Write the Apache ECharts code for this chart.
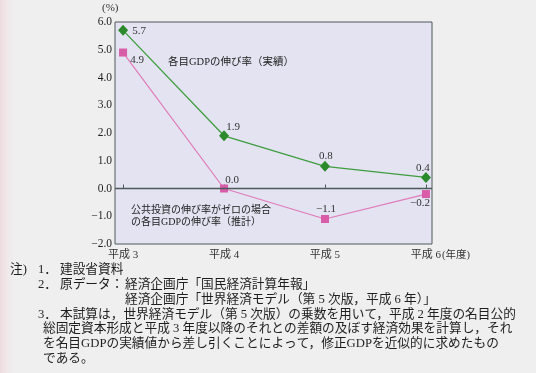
<!DOCTYPE html>
<html><head><meta charset="utf-8">
<script src="https://cdn.jsdelivr.net/npm/echarts@6/dist/echarts.min.js"></script>
<style>html,body{margin:0;padding:0;background:#f0efef}#c{width:536px;height:373px}</style>
</head><body><div id="c"></div>
<script>
// ---- data ----
const categories = ['平成 3', '平成 4', '平成 5', '平成 6'];
const actualGrowth = [5.7, 1.9, 0.8, 0.4];          // 各目GDPの伸び率（実績）
const zeroInvestGrowth = [4.9, 0.0, -1.1, -0.2];     // 公共投資の伸び率がゼロの場合の各目GDPの伸び率（推計）
const yTicks = [-2, -1, 0, 1, 2, 3, 4, 5, 6];
const xTickValues = [0, 1, 2, 3];
const notes = [
  ['注)', '1．', '建設省資料'],
  ['', '2．', '原データ：'],
  ['', '', ''],
  ['', '3．', '本試算は，世界経済モデル（第 5 次版）の乗数を用いて，平成 2 年度の名目公的'],
  ['', '', '総固定資本形成と平成 3 年度以降のそれとの差額の及ぼす経済効果を計算し，それ'],
  ['', '', 'を名目GDPの実績値から差し引くことによって，修正GDPを近似的に求めたもの'],
  ['', '', 'である。']
];
const sources = ['経済企画庁「国民経済計算年報」', '経済企画庁「世界経済モデル（第 5 次版，平成 6 年）」'];

// ---- label offsets (style) ----
const greenOffsets = [[16, 1], [9, -8.5], [1, -10.5], [-3, -9]];
const pinkOffsets = [[14, 8], [8, -8.5], [1, -9.5], [-6, 9]];

const FONT = '"Liberation Serif", "Noto Sans CJK JP", serif';
const fmt = v => (v < 0 ? '−' : '') + Math.abs(v).toFixed(1);

function buildData(values, offsets) {
  return values.map((v, i) => ({
    value: [i, v],
    label: { show: true, position: 'inside', offset: offsets[i], formatter: fmt(v) }
  }));
}

const graphics = [
  { type: 'rect', left: 0, top: 0, shape: { width: 18, height: 373 }, silent: true, z: -10,
    style: { fill: new echarts.graphic.LinearGradient(0, 0, 1, 0, [
      { offset: 0, color: 'rgba(236,210,216,0.7)' }, { offset: 1, color: 'rgba(240,239,239,0)' }]) } },
  { type: 'text', left: 102, top: 3, style: { text: '(%)', font: '11px ' + FONT, fill: '#333' } },
  { type: 'text', left: 168, top: 57, style: { text: '各目GDPの伸び率（実績）', font: '10.5px ' + FONT, fill: '#222' } },
  { type: 'text', left: 131, top: 205, style: { text: '公共投資の伸び率がゼロの場合', font: '10px ' + FONT, fill: '#222' } },
  { type: 'text', left: 131, top: 217, style: { text: 'の各目GDPの伸び率（推計）', font: '10px ' + FONT, fill: '#222' } },
  { type: 'text', left: 442, top: 250, style: { text: '(年度)', font: '10.5px ' + FONT, fill: '#333' } }
];
const noteX = [10, 38, 60];
const contX = 43;
notes.forEach((row, i) => {
  const y = 271.3 + 14.85 * i - 8;
  row.forEach((t, j) => {
    if (!t) return;
    let x = noteX[j];
    if (j === 2 && !row[1]) x = contX;
    graphics.push({ type: 'text', left: x, top: y, style: { text: t, font: '12.7px ' + FONT, fill: '#1e1e1e' } });
  });
});
sources.forEach((t, i) => {
  const y = 271.3 + 14.85 * (i + 1) - 8;
  graphics.push({ type: 'text', left: 125, top: y, style: { text: t, font: '12.7px ' + FONT, fill: '#1e1e1e' } });
});

const chart = echarts.init(document.getElementById('c'), null, { renderer: 'canvas' });
chart.setOption({
  animation: false,
  backgroundColor: '#f0efef',
  grid: { left: 115, right: 104, top: 22, bottom: 129, show: true,
          backgroundColor: '#e3e3f2', borderColor: '#4d5a58', borderWidth: 1 },
  xAxis: {
    type: 'value', min: -0.08, max: 3.06,
    splitLine: { show: false },
    axisLine: { show: false },
    axisTick: { show: true, inside: true, length: 4, customValues: xTickValues,
                lineStyle: { color: '#4d5a58' } },
    axisLabel: { customValues: xTickValues, margin: 6, color: '#333',
                 fontFamily: FONT, fontSize: 11,
                 formatter: v => categories[Math.round(v)] }
  },
  yAxis: {
    type: 'value', min: yTicks[0], max: yTicks[yTicks.length - 1], interval: 1,
    splitLine: { show: false },
    axisLine: { show: false },
    axisTick: { show: false },
    axisLabel: { margin: 3, color: '#1e1e1e', fontFamily: FONT, fontSize: 11.5,
                 formatter: fmt }
  },
  graphic: graphics,
  series: [
    {
      type: 'line', name: '実績', data: buildData(actualGrowth, greenOffsets),
      symbol: 'diamond', symbolSize: [10, 11],
      lineStyle: { color: '#3f9d3f', width: 1.3 },
      itemStyle: { color: '#2b8a2b' },
      label: { color: '#333', fontFamily: FONT, fontSize: 11 },
      z: 3
    },
    {
      type: 'line', name: '推計', data: buildData(zeroInvestGrowth, pinkOffsets),
      symbol: 'rect', symbolSize: 8,
      lineStyle: { color: '#e07ab8', width: 1.2 },
      itemStyle: { color: '#d95ca8' },
      label: { color: '#333', fontFamily: FONT, fontSize: 11 },
      markLine: { silent: true, symbol: 'none', label: { show: false },
                  lineStyle: { color: '#4d5a58', width: 1.3, type: 'solid' },
                  data: [{ yAxis: 0 }] },
      z: 2
    }
  ]
});
</script></body></html>
